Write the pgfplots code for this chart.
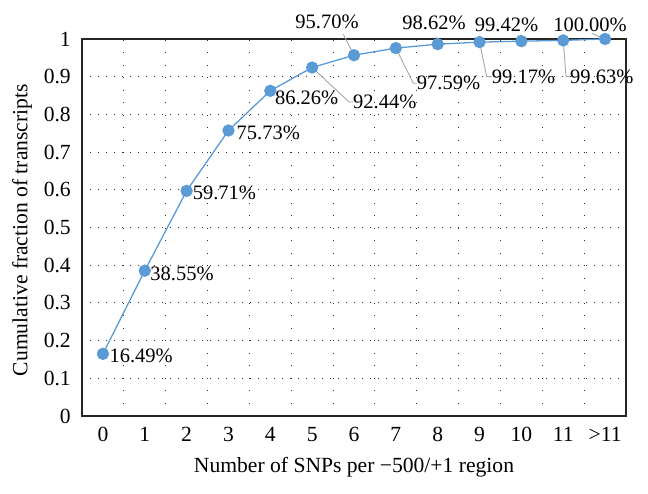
\documentclass[border=0pt]{standalone}
\usepackage{fontspec}
\setmainfont{Liberation Serif}
\usepackage{pgfplots}
\pgfplotsset{compat=1.18}
\usetikzlibrary{calc}
\definecolor{ptblue}{HTML}{5B9BD5}
\definecolor{leadgray}{HTML}{A6A6A6}
\newcommand\cf{\fontsize{20.5}{24}\selectfont}
\newcommand\lf{\fontsize{21.6}{25}\selectfont}
\tikzset{lab/.style={font=\cf, inner sep=0pt},
  lead/.style={leadgray, line width=0.9pt}}

\begin{document}
\begin{tikzpicture}
\begin{axis}[
  scale only axis, width=544pt, height=377pt,
  xmin=-0.5, xmax=12.5, ymin=0, ymax=1,
  xtick={0,1,2,3,4,5,6,7,8,9,10,11,12},
  xticklabels={0,1,2,3,4,5,6,7,8,9,10,11,>11},
  ytick={0,0.1,0.2,0.3,0.4,0.5,0.6,0.7,0.8,0.9,1},
  minor x tick num=1,
  xminorgrids=true, ymajorgrids=true,
  major tick length=0pt, minor tick length=0pt,
  minor grid style={draw=black!80, line width=1pt, dash pattern=on 1pt off 11.5pt},
  major grid style={draw=black!80, line width=1pt, dash pattern=on 1pt off 7pt},
  axis line style={draw=black!85, line width=1.3pt},
  tick label style={font=\lf, inner sep=0pt},
  xticklabel shift=11pt, yticklabel shift=11pt,
  /pgf/number format/assume math mode=true,
  yticklabel style={/pgf/number format/.cd, fixed, precision=1},
  label style={font=\lf},
  xlabel={Number of SNPs per −500/+1 region},
  ylabel={Cumulative fraction of transcripts},
  xlabel style={at={(axis description cs:0.5,-0.135)}, anchor=center},
  ylabel style={at={(axis description cs:-0.11,0.493)}, anchor=center},
  clip=false,
]
% leader lines (drawn first so the markers cover their ends)
\draw[lead] (axis cs:5,0.9244) -- (axis cs:5.881,0.8329) -- (axis cs:5.976,0.8329);
\draw[lead] (axis cs:6,0.9570) -- (axis cs:5.744,1.0125);
\draw[lead] (axis cs:7,0.9759) -- (axis cs:7.417,0.8825) -- (axis cs:7.498,0.8825);
\draw[lead] (axis cs:8,0.9862) -- (axis cs:7.976,1.006);
\draw[lead] (axis cs:9,0.9917) -- (axis cs:9.171,0.900) -- (axis cs:9.291,0.900);
\draw[lead] (axis cs:10,0.9942) -- (axis cs:9.926,1.0106);
\draw[lead] (axis cs:11,0.9963) -- (axis cs:11.066,0.900) -- (axis cs:11.162,0.900);
\draw[lead] (axis cs:12,1.0000) -- (axis cs:11.680,1.0151);

\addplot[color=ptblue, line width=1.3pt, mark=*, mark size=5.5pt,
  mark options={fill=ptblue, draw=none}] coordinates {
  (0,0.1649) (1,0.3855) (2,0.5971) (3,0.7573) (4,0.8626) (5,0.9244) (6,0.9570)
  (7,0.9759) (8,0.9862) (9,0.9917) (10,0.9942) (11,0.9963) (12,1.0000)
};

\node[lab, anchor=west, xshift=6.5pt, yshift=-1.5pt] at (axis cs:0,0.1649) {16.49\%};
\node[lab, anchor=west, xshift=5.5pt, yshift=-3pt] at (axis cs:1,0.3855) {38.55\%};
\node[lab, anchor=west, xshift=6pt, yshift=-2pt] at (axis cs:2,0.5971) {59.71\%};
\node[lab, anchor=west, xshift=8pt, yshift=-2.5pt] at (axis cs:3,0.7573) {75.73\%};
\node[lab, anchor=west, xshift=4.5pt, yshift=-7pt] at (axis cs:4,0.8626) {86.26\%};
\node[lab, anchor=west] at (axis cs:5.976,0.8329) {92.44\%};
\node[lab] at (axis cs:5.355,1.045) {95.70\%};
\node[lab, anchor=west] at (axis cs:7.498,0.8825) {97.59\%};
\node[lab] at (axis cs:7.912,1.0424) {98.62\%};
\node[lab, anchor=west] at (axis cs:9.291,0.900) {99.17\%};
\node[lab] at (axis cs:9.644,1.037) {99.42\%};
\node[lab, anchor=west] at (axis cs:11.162,0.900) {99.63\%};
\node[lab] at (axis cs:11.640,1.037) {100.00\%};
\end{axis}
\pgfresetboundingbox
\path ($(current axis.south west)+(-82pt,-77pt)$) rectangle ($(current axis.north east)+(22pt,39pt)$);
\end{tikzpicture}
\end{document}
